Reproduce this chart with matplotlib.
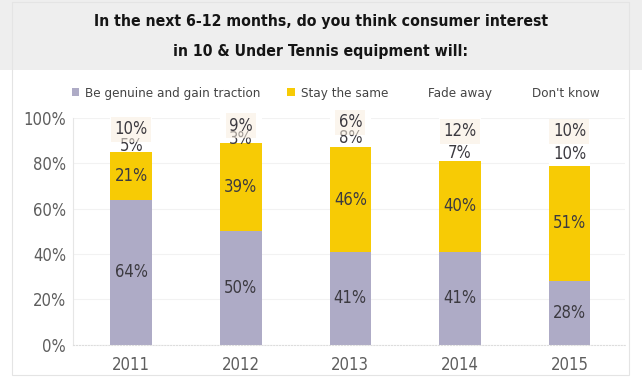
import matplotlib
matplotlib.use("Agg")
import matplotlib.pyplot as plt
from matplotlib.patches import Patch, Rectangle
from matplotlib import font_manager
from matplotlib.font_manager import FontProperties

# prefer a condensed face if one is installed
cond_path = font_manager.findfont(FontProperties(family='DejaVu Sans', stretch='condensed'))
HAVE_COND = 'ondensed' in cond_path
plt.rcParams['font.family'] = ['DejaVu Sans']
STRETCH = 'condensed' if HAVE_COND else 'normal'
plt.rcParams['font.stretch'] = STRETCH
SCALE = 1.0 if HAVE_COND else 0.85

years = ['2011', '2012', '2013', '2014', '2015']
genuine = [64, 50, 41, 41, 28]
same = [21, 39, 46, 40, 51]
fade = [5, 3, 8, 7, 10]
dontknow = [10, 9, 6, 12, 10]
series_names = ['Be genuine and gain traction', 'Stay the same', 'Fade away', "Don't know"]
yticks = [0, 20, 40, 60, 80, 100]
ytick_labels = ['0%', '20%', '40%', '60%', '80%', '100%']

GREY = '#aeabc6'
YELLOW = '#f7cb05'
TXT = '#3c3a40'
TICK = '#5e5e5e'

fig = plt.figure(figsize=(6.42, 3.79), dpi=100)
fig.patch.set_facecolor('white')
fig.add_artist(Rectangle((0, 0.815), 1, 0.185, transform=fig.transFigure,
                         facecolor='#eeeeee', edgecolor='none', zorder=0))
fig.add_artist(Rectangle((0.018, 0.01), 0.962, 0.985, transform=fig.transFigure,
                         facecolor='none', edgecolor='#e4e4e4', lw=0.8, zorder=0))

tfs = 11.3 * SCALE
fig.text(0.5, 0.942, 'In the next 6-12 months, do you think consumer interest',
         ha='center', va='center', fontsize=tfs, fontweight='bold', color='#151515', fontstretch=STRETCH)
fig.text(0.5, 0.863, 'in 10 & Under Tennis equipment will:',
         ha='center', va='center', fontsize=tfs, fontweight='bold', color='#151515', fontstretch=STRETCH)

ax = fig.add_axes([0.114, 0.09, 0.86, 0.599])
x = list(range(len(years)))
w = 0.38
ax.bar(x, genuine, w, color=GREY, zorder=2)
ax.bar(x, same, w, bottom=genuine, color=YELLOW, zorder=2)
bot3 = [g + s for g, s in zip(genuine, same)]
ax.bar(x, fade, w, bottom=bot3, color='white', zorder=2)
bot4 = [b + f for b, f in zip(bot3, fade)]
ax.bar(x, dontknow, w, bottom=bot4, color='white', zorder=2)

vfs = 12 * SCALE
for i in x:
    ax.text(i, genuine[i] / 2, f'{genuine[i]}%', ha='center', va='center', fontsize=vfs, color=TXT, zorder=3)
    ax.text(i, genuine[i] + same[i] / 2, f'{same[i]}%', ha='center', va='center', fontsize=vfs, color=TXT, zorder=3)
    ax.text(i, bot3[i] + fade[i] / 2, f'{fade[i]}%', ha='center', va='center', fontsize=vfs, color=TXT, zorder=3)
    ax.text(i, bot4[i] + dontknow[i] / 2, f'{dontknow[i]}%', ha='center', va='center', fontsize=vfs, color=TXT, zorder=3,
            bbox=dict(boxstyle='square,pad=0.2', facecolor='#f8eedf', edgecolor='none', alpha=0.55))

ax.set_xlim(-0.53, 4.51)
ax.set_ylim(0, 100)
ax.set_xticks(x)
ax.set_xticklabels(years, fontsize=12 * SCALE, color=TICK)
ax.set_yticks(yticks)
ax.set_yticklabels(ytick_labels, fontsize=12 * SCALE, color=TICK)
ax.tick_params(length=0, pad=5)
ax.tick_params(axis='x', pad=8)
for s in ['top', 'right']:
    ax.spines[s].set_visible(False)
ax.spines['left'].set_color('#e6e6e6')
ax.spines['bottom'].set_color('#dddddd')
ax.spines['bottom'].set_linestyle(':')
ax.yaxis.grid(True, color='#f2f2f2', lw=0.8, zorder=0)
ax.set_axisbelow(True)

handles = [Patch(facecolor=GREY), Patch(facecolor=YELLOW),
           Patch(facecolor='none', edgecolor='none'), Patch(facecolor='none', edgecolor='none')]
fig.legend(handles, series_names, loc='center', bbox_to_anchor=(0.523, 0.754), ncol=4,
           frameon=False, fontsize=9.6 * SCALE, handlelength=0.55, handleheight=0.55,
           handletextpad=0.45, columnspacing=2.0, labelcolor='#444444')

fig.savefig('out.png', dpi=100)
